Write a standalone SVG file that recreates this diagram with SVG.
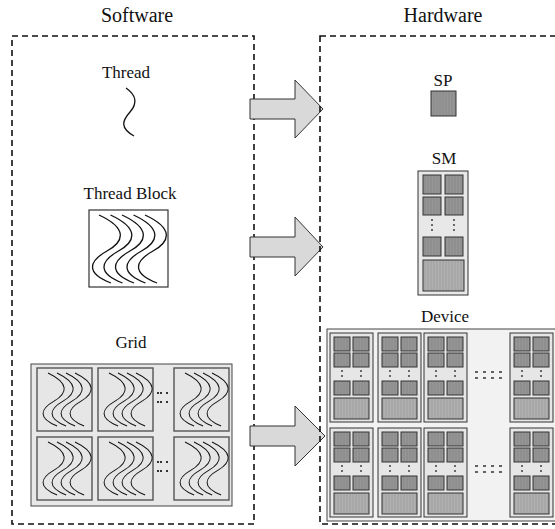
<svg xmlns="http://www.w3.org/2000/svg" xmlns:xlink="http://www.w3.org/1999/xlink" width="555" height="529" viewBox="0 0 555 529">
<style>
text{font-family:"Liberation Serif","Times New Roman",serif;fill:#111;text-anchor:middle}
.title{font-size:20px}
.lbl{font-size:17px}
.dash{fill:none;stroke:#111;stroke-width:1.6;stroke-dasharray:6,4}
.arrow{fill:#d9d9d9;stroke:#333;stroke-width:1}
.thr{fill:none;stroke:#111;stroke-width:1.3}
.cell{fill:#e6e6e6;stroke:#555;stroke-width:1.4}
.core{fill:url(#stripeA);stroke:#333;stroke-width:1}
.mem{fill:url(#stripeB);stroke:#333;stroke-width:1}
.smbox{fill:#e8e8e8;stroke:#333;stroke-width:1}
.vdots{fill:none;stroke:#333;stroke-width:1.4;stroke-dasharray:2,3}
.hdots{fill:none;stroke:#333;stroke-width:1.4;stroke-dasharray:3,5}
</style>
<defs>
<pattern id="stripeA" width="3" height="4" patternUnits="userSpaceOnUse"><rect width="3" height="4" fill="#8f8f8f"/><rect width="1" height="4" fill="#969696"/></pattern>
<pattern id="stripeB" width="3" height="4" patternUnits="userSpaceOnUse"><rect width="3" height="4" fill="#a8a8a8"/><rect width="1" height="4" fill="#b0b0b0"/></pattern>
<path id="tc" class="thr" d="M0,0 C28,13 26,26 8,36 S-14,58 12,68"/>
<g id="gcell">
<rect class="cell" x="0" y="0" width="55" height="63"/>
<use xlink:href="#tc" transform="translate(11,5) scale(0.76,0.78)"/>
<use xlink:href="#tc" transform="translate(20,5) scale(0.76,0.78)"/>
<use xlink:href="#tc" transform="translate(29,5) scale(0.76,0.78)"/>
<use xlink:href="#tc" transform="translate(38,5) scale(0.76,0.78)"/>
</g>
<g id="dsm">
<rect class="smbox" x="0" y="0" width="43" height="89" style="fill:#e6e6e6"/>
<rect class="core" x="4" y="4" width="16" height="14"/>
<rect class="core" x="23" y="4" width="16" height="14"/>
<rect class="core" x="4" y="20" width="16" height="14"/>
<rect class="core" x="23" y="20" width="16" height="14"/>
<line class="vdots" x1="12" y1="37" x2="12" y2="47"/>
<line class="vdots" x1="31" y1="37" x2="31" y2="47"/>
<rect class="core" x="4" y="48" width="16" height="14"/>
<rect class="core" x="23" y="48" width="16" height="14"/>
<rect class="mem" x="4" y="65" width="35" height="21"/>
</g>
</defs>

<text class="title" x="137" y="22">Software</text>
<text class="title" x="443" y="22">Hardware</text>

<rect id="software-box" class="dash" x="12" y="36" width="242" height="488"/>

<g id="thread">
<text class="lbl" x="126" y="78">Thread</text>
<path class="thr" d="M126,88 C136,95 138,103 130,112 S120,128 134,136"/>
</g>

<g id="thread-block">
<text class="lbl" x="130" y="199">Thread Block</text>
<rect x="89" y="210" width="79" height="77" fill="#fff" stroke="#333" stroke-width="1.2"/>
<use xlink:href="#tc" transform="translate(99,215)"/>
<use xlink:href="#tc" transform="translate(110.5,215)"/>
<use xlink:href="#tc" transform="translate(122,215)"/>
<use xlink:href="#tc" transform="translate(133.5,215)"/>
<use xlink:href="#tc" transform="translate(145,215)"/>
</g>

<g id="grid">
<text class="lbl" x="131" y="348">Grid</text>
<rect x="31" y="364" width="201" height="142" fill="#e8e8e8" stroke="#444" stroke-width="1"/>
<use xlink:href="#gcell" x="37" y="368"/>
<use xlink:href="#gcell" x="98" y="368"/>
<use xlink:href="#gcell" x="174" y="368"/>
<use xlink:href="#gcell" x="37" y="437"/>
<use xlink:href="#gcell" x="98" y="437"/>
<use xlink:href="#gcell" x="174" y="437"/>
<g fill="#333">
<rect x="157" y="392" width="2" height="2"/><rect x="160" y="392" width="2" height="2"/><rect x="166" y="392" width="2" height="2"/>
<rect x="157" y="401" width="2" height="2"/><rect x="160" y="401" width="2" height="2"/><rect x="166" y="401" width="2" height="2"/>
<rect x="157" y="461" width="2" height="2"/><rect x="160" y="461" width="2" height="2"/><rect x="166" y="461" width="2" height="2"/>
<rect x="157" y="470" width="2" height="2"/><rect x="160" y="470" width="2" height="2"/><rect x="166" y="470" width="2" height="2"/>
</g>
</g>

<g id="connectors">
<path class="arrow" d="M250,99 H295 V80 L323,109 L295,138 V119 H250 Z"/>
<path class="arrow" d="M250,237 H295 V217 L323,247 L295,276 V257 H250 Z"/>
<path class="arrow" d="M250,426 H295 V406 L325,436 L295,466 V446 H250 Z"/>
</g>

<rect id="hardware-box" class="dash" x="320" y="36" width="260" height="488"/>

<g id="sp">
<text class="lbl" x="443" y="86">SP</text>
<rect class="core" x="431" y="91" width="25" height="25"/>
</g>

<g id="sm">
<text class="lbl" x="444" y="164">SM</text>
<rect class="smbox" x="418" y="171" width="50" height="124"/>
<rect class="core" x="423" y="175" width="18" height="19"/>
<rect class="core" x="445" y="175" width="18" height="19"/>
<rect class="core" x="423" y="197" width="18" height="18"/>
<rect class="core" x="445" y="197" width="18" height="18"/>
<line class="vdots" x1="432" y1="219" x2="432" y2="234"/>
<line class="vdots" x1="454" y1="219" x2="454" y2="234"/>
<rect class="core" x="423" y="237" width="18" height="19"/>
<rect class="core" x="445" y="237" width="18" height="19"/>
<rect class="mem" x="423" y="260" width="41" height="31"/>
</g>

<g id="device">
<text class="lbl" x="445" y="322">Device</text>
<rect x="327" y="329" width="240" height="192" fill="#f2f2f2" stroke="#444" stroke-width="1"/>
<use xlink:href="#dsm" x="330" y="333"/>
<use xlink:href="#dsm" x="378" y="333"/>
<use xlink:href="#dsm" x="424" y="333"/>
<use xlink:href="#dsm" x="510" y="333"/>
<use xlink:href="#dsm" x="330" y="428"/>
<use xlink:href="#dsm" x="378" y="428"/>
<use xlink:href="#dsm" x="424" y="428"/>
<use xlink:href="#dsm" x="510" y="428"/>
<line class="hdots" x1="475" y1="372" x2="506" y2="372"/>
<line class="hdots" x1="475" y1="378" x2="506" y2="378"/>
<line class="hdots" x1="475" y1="466" x2="506" y2="466"/>
<line class="hdots" x1="475" y1="472" x2="506" y2="472"/>
</g>
</svg>
